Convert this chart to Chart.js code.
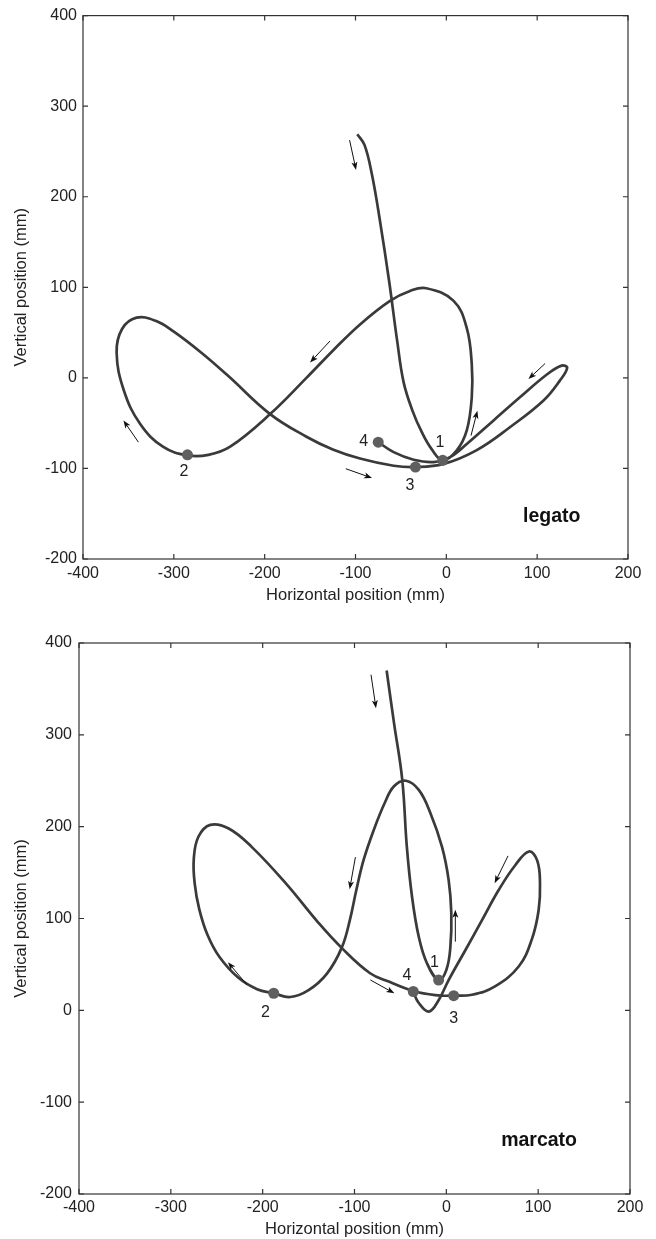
<!DOCTYPE html>
<html>
<head>
<meta charset="utf-8">
<script src="https://cdn.jsdelivr.net/npm/chart.js@4.4.1/dist/chart.umd.min.js"></script>
<style>
  body { margin: 0; background: #fff; }
  .panel { position: absolute; left: 0; width: 656px; }
</style>
</head>
<body>
<div class="panel" style="top:0;height:620px"><canvas id="legato"></canvas></div>
<div class="panel" style="top:620px;height:619px"><canvas id="marcato"></canvas></div>
<script>
const xTicks = [-400, -300, -200, -100, 0, 100, 200];
const yTicks = [-200, -100, 0, 100, 200, 300, 400];
const beatNames = ['1', '2', '3', '4'];

// legato trajectory (mm)
const legatoX = [-98, -90, -82, -73, -63, -54, -47, -37, -27, -16, -4,
  11.5, 22.5, 28, 28, 22.5, 8, -22, -40, -62, -95, -125, -154, -194, -238, -262, -285,
  -312, -337, -355, -363, -357, -341, -320, -300, -270, -240, -194, -154, -125, -95, -58, -34,
  -3, 33, 70, 107, 125, 133, 127, 111, 81, 52, 22.5, 4, -14, -36, -58, -75];
const legatoY = [269, 257, 225, 173, 107, 40, -5, -37, -60, -79, -91,
  -80, -58, -21.5, 15, 55, 85, 99, 96, 85, 59, 30, 0, -40, -76, -85, -85.5,
  -76, -51, -14, 28, 54, 66.5, 63, 51, 28, 2, -40, -65, -79, -89, -97, -98.5,
  -95, -80, -54.5, -25, -3, 11, 13.5, 4, -21.5, -47, -73, -87.5, -93, -90.4, -82, -71];
const legatoBeatX = [-4, -285, -34, -75];
const legatoBeatY = [-91, -85, -98.5, -71];
const legatoLabelX = [-7, -289, -40, -91];
const legatoLabelY = [-71, -104, -119, -70];
const legatoArrowX0 = [-106.5, -339, -128, 108.7, 27.2, -110.7];
const legatoArrowY0 = [262.5, -71, 40.8, 15.8, -63.7, -100.3];
const legatoArrowX1 = [-99.4, -355.5, -150, 90.4, 34.2, -81.8];
const legatoArrowY1 = [229.6, -47, 17, -1.3, -36.2, -110.6];

// marcato trajectory (mm)
const marcatoX = [-65, -57, -48, -43, -37.4, -30, -21, -8.4,
  0, 4.4, 5.4, 2.5, -4.7, -17.4, -30, -44, -57, -67, -79, -90, -98, -105, -114,
  -130, -150, -170, -188, -206, -227, -247, -260, -269, -274, -275, -270, -257, -237, -212, -175, -139,
  -114, -83, -62, -36, -12, 8, 28, 53, 79, 93, 100.5, 102, 99, 90, 75, 57, 39, 21,
  2.5, -8.4, -19, -30, -36];
const marcatoY = [370, 313, 251, 178, 124, 80, 51, 33,
  44, 69, 106, 142, 178, 215, 240, 250, 244, 226, 196.5, 164, 131, 98.5, 68,
  40, 22, 14.5, 18.6, 23, 36, 58, 82, 110, 138, 165, 189, 202, 198, 178, 138.5, 95,
  68, 40.4, 31, 21, 16.5, 16, 17, 26, 48, 77, 109, 138.5, 163, 173, 158, 131, 98.5, 66,
  33, 11, -1.4, 8, 20];
const marcatoBeatX = [-8.4, -188, 8, -36];
const marcatoBeatY = [33, 18.6, 16, 20.5];
const marcatoLabelX = [-13, -197, 8, -43];
const marcatoLabelY = [52, -2.5, -8.6, 38];
const marcatoArrowX0 = [-82, -99, 67.2, 9.8, -217, -82.8];
const marcatoArrowY0 = [365.4, 166.8, 168.2, 74.8, 27.7, 33.1];
const marcatoArrowX1 = [-76.6, -105.3, 52.6, 9.8, -237.8, -56.6];
const marcatoArrowY1 = [329, 131.9, 138.5, 109.4, 52.4, 18.6];

const FONT = '"Liberation Sans", Arial, Helvetica, sans-serif';
const INK = '#222';

const decorations = {
  id: 'decorations',
  afterDatasetsDraw(chart, args, opts) {
    const { ctx, chartArea: a, scales: { x, y } } = chart;
    ctx.save();
    // box with inward ticks
    ctx.strokeStyle = '#333';
    ctx.lineWidth = 1.2;
    ctx.strokeRect(a.left, a.top, a.right - a.left, a.bottom - a.top);
    ctx.beginPath();
    xTicks.forEach(v => {
      const px = x.getPixelForValue(v);
      ctx.moveTo(px, a.bottom); ctx.lineTo(px, a.bottom - 5);
      ctx.moveTo(px, a.top); ctx.lineTo(px, a.top + 5);
    });
    yTicks.forEach(v => {
      const py = y.getPixelForValue(v);
      ctx.moveTo(a.left, py); ctx.lineTo(a.left + 5, py);
      ctx.moveTo(a.right, py); ctx.lineTo(a.right - 5, py);
    });
    ctx.stroke();

    // direction arrows
    ctx.strokeStyle = '#111';
    ctx.fillStyle = '#111';
    ctx.lineWidth = 1;
    opts.x0.forEach((_, i) => {
      const x0 = x.getPixelForValue(opts.x0[i]), y0 = y.getPixelForValue(opts.y0[i]);
      const x1 = x.getPixelForValue(opts.x1[i]), y1 = y.getPixelForValue(opts.y1[i]);
      const c = Math.cos(Math.atan2(y1 - y0, x1 - x0)), s = Math.sin(Math.atan2(y1 - y0, x1 - x0));
      ctx.beginPath();
      ctx.moveTo(x0, y0); ctx.lineTo(x1 - 4 * c, y1 - 4 * s);
      ctx.stroke();
      ctx.beginPath();
      ctx.moveTo(x1, y1);
      ctx.lineTo(x1 - 8 * c + 3 * s, y1 - 8 * s - 3 * c);
      ctx.lineTo(x1 - 6 * c, y1 - 6 * s);
      ctx.lineTo(x1 - 8 * c - 3 * s, y1 - 8 * s + 3 * c);
      ctx.closePath();
      ctx.fill();
    });

    // beat numbers
    ctx.fillStyle = INK;
    ctx.font = '16px ' + FONT;
    ctx.textAlign = 'center';
    ctx.textBaseline = 'middle';
    opts.labelX.forEach((v, i) => {
      ctx.fillText(beatNames[i], x.getPixelForValue(v), y.getPixelForValue(opts.labelY[i]));
    });

    // panel name
    ctx.font = 'bold 19.5px ' + FONT;
    ctx.fillStyle = '#111';
    ctx.fillText(opts.name, x.getPixelForValue(opts.nameX), y.getPixelForValue(opts.nameY));
    ctx.restore();
  }
};

function axis(title, ticks, tickPad, titlePad, fixedSize, horizontal) {
  return {
    type: 'linear',
    min: ticks[0],
    max: ticks[ticks.length - 1],
    afterBuildTicks: s => { s.ticks = ticks.map(v => ({ value: v })); },
    afterFit: s => { if (horizontal) s.height = fixedSize; else s.width = fixedSize; },
    grid: { display: false, drawTicks: false },
    border: { display: false },
    ticks: { padding: tickPad, color: INK, font: { family: FONT, size: 16 } },
    title: { display: true, text: title, color: INK, padding: titlePad, font: { family: FONT, size: 16.5 } }
  };
}

function makeChart(id, xs, ys, bx, by, cfg) {
  new Chart(document.getElementById(id), {
    type: 'scatter',
    data: {
      datasets: [
        {
          data: bx.map((v, i) => ({ x: v, y: by[i] })),
          pointRadius: 5.5,
          backgroundColor: '#5f5f5f',
          borderWidth: 0
        },
        {
          data: xs.map((v, i) => ({ x: v, y: ys[i] })),
          showLine: true,
          tension: 0.4,
          borderColor: '#3a3a3a',
          borderWidth: 2.7,
          pointRadius: 0
        }
      ]
    },
    options: {
      animation: false,
      responsive: true,
      maintainAspectRatio: false,
      layout: { padding: cfg.padding },
      plugins: {
        legend: { display: false },
        tooltip: { enabled: false },
        decorations: cfg.deco
      },
      scales: {
        x: axis('Horizontal position (mm)', xTicks, cfg.xTickPad, { top: 0, bottom: cfg.xTitlePad }, cfg.xHeight, true),
        y: axis('Vertical position (mm)', yTicks, cfg.yTickPad, { top: 12, bottom: 0 }, cfg.yWidth, false)
      }
    },
    plugins: [decorations]
  });
}

makeChart('legato', legatoX, legatoY, legatoBeatX, legatoBeatY, {
  padding: { top: 13, right: 28, bottom: 0, left: 0 },
  xHeight: 61, yWidth: 83, xTickPad: 5, yTickPad: 6, xTitlePad: 15,
  deco: {
    x0: legatoArrowX0, y0: legatoArrowY0, x1: legatoArrowX1, y1: legatoArrowY1,
    labelX: legatoLabelX, labelY: legatoLabelY,
    name: 'legato', nameX: 116, nameY: -153.5
  }
});

makeChart('marcato', marcatoX, marcatoY, marcatoBeatX, marcatoBeatY, {
  padding: { top: 23, right: 26, bottom: 0, left: 0 },
  xHeight: 45, yWidth: 79, xTickPad: 4, yTickPad: 7, xTitlePad: 0,
  deco: {
    x0: marcatoArrowX0, y0: marcatoArrowY0, x1: marcatoArrowX1, y1: marcatoArrowY1,
    labelX: marcatoLabelX, labelY: marcatoLabelY,
    name: 'marcato', nameX: 101, nameY: -142
  }
});
</script>
</body>
</html>
